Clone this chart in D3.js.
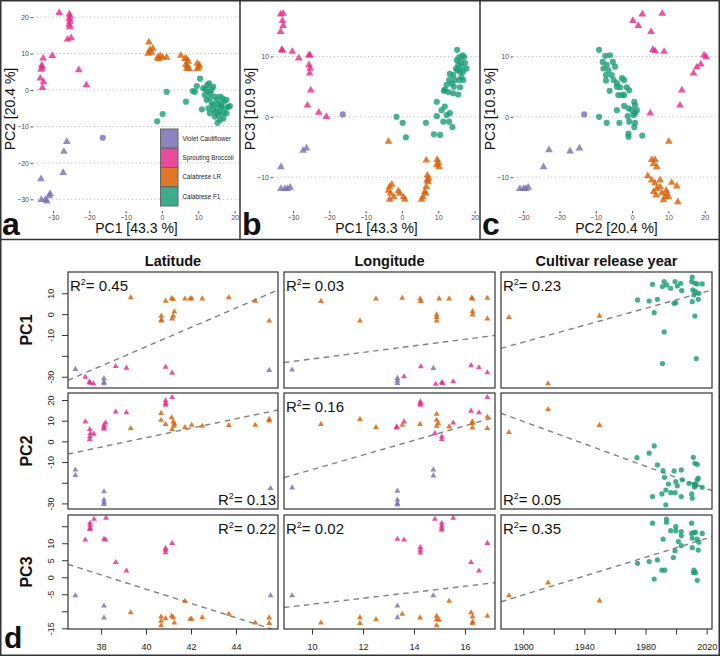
<!DOCTYPE html>
<html><head><meta charset="utf-8">
<script src="https://cdn.jsdelivr.net/npm/d3@7"></script>
<style>body{margin:0;background:#fff}svg{display:block;font-family:"Liberation Sans",Arial,sans-serif}</style>
</head><body><svg id="c" width="720" height="656"></svg>
<script>
// ---------- categories ----------
const groups = ["Violet Cauliflower","Sprouting Broccoli","Calabrese LR","Calabrese F1"];
const groupColors = ["#7570b3","#e7298a","#d95f02","#1b9e77"];
// codes: V violet, VF violet (hybrid, circle), S sprouting, L calabrese LR, F calabrese F1

// ---------- PCA panels (a: PC1/PC2, b: PC1/PC3, c: PC2/PC3) ----------
const pcaA = {
 S:[[-28.3,21.2],[-25.5,20.8],[-25.3,20.2],[-25.5,19.5],[-25.3,18.8],[-25.5,18.0],[-25.4,17.3],[-26,13.9],[-25,14.3],[-32.7,8.7],[-30.2,9.4],[-33.1,6.7],[-33.0,6.2],[-33.2,5.6],[-22.9,5.5],[-33.5,3.2],[-32.6,2.2],[-32.9,0.6],[-20.8,1.4]],
 V:[[-26.2,-14.2],[-27,-16.9],[-27.2,-22.7],[-33.3,-24.4],[-33.2,-30.1],[-32.1,-30.1],[-31.7,-30.5],[-31,-29.1],[-30.8,-28.5]],
 VF:[[-16.3,-13.1]],
 L:[[-3.6,13.1],[-3.3,11],[-2.9,10.3],[-3.8,10],[-2.5,11.4],[-0.5,9.4],[-0.9,8.5],[0.2,8.9],[-1.2,8.9],[1.3,8.9],[5.2,9.5],[6.3,8.6],[6.8,8.6],[7.2,7.8],[6.6,7.0],[7.0,6.5],[6.9,5.8],[9.7,7.3],[10.1,6.3],[9.8,5.8],[10.3,6.8],[7.5,5.8]],
 F:[[11.4,0.5],[12.5,1.4],[13.0,1.8],[12.8,-0.5],[13.4,-0.9],[14.1,0.9],[11.8,-1.4],[13.2,-2.3],[14.6,-1.8],[15.1,-2.7],[15.5,-3.7],[16.0,-1.8],[16.7,-2.3],[17.1,-3.2],[17.8,-2.7],[16.4,-4.6],[15.1,-5.0],[14.1,-5.5],[16.0,-5.9],[16.9,-6.4],[15.5,-6.8],[14.6,-7.3],[16.0,-8.2],[15.3,-9.0],[17.4,-5.0],[18.3,-4.6],[18.7,-4.4],[12.3,-2.7],[13.7,-3.7],[12.8,-5.0],[14.1,-4.1],[16.9,-7.8],[17.8,-6.4],[16.2,-4.1],[14.9,-6.2],[13.2,-6.4],[12.0,0.2],[13.7,0.2],[10.5,3.1],[1.3,-0.5],[0.2,-6.6],[-1.3,-8.6],[6.6,-3.2],[9.6,1.1],[9.1,-0.5],[11,-5.3],[8.5,-0.3]]
};
const pcaB = {
 S:[[-33.4,17.0],[-32.7,17.1],[-32.9,15.9],[-32.7,15.1],[-33.4,14.1],[-33.1,11.1],[-32.9,11.0],[-30.2,10.8],[-28.4,9.7],[-25.6,10.2],[-25.3,10.2],[-25.6,8.6],[-25.3,8.0],[-25.4,7.2],[-25.1,4.4],[-26,1.9],[-22.9,0.7],[-20.8,0.0]],
 V:[[-27.2,-5.6],[-26.3,-5.2],[-33.3,-8.3],[-33.3,-11.9],[-32.2,-11.9],[-31.5,-11.9],[-30.8,-11.7]],
 VF:[[-16.3,0.4]],
 L:[[-3.7,-4.1],[-3.4,-11.6],[-2.8,-11.2],[-3.7,-12.2],[-3.1,-12.7],[-3.4,-13.7],[-2.2,-13.3],[-1.0,-12.3],[-0.6,-12.7],[0.4,-13.3],[0.8,-13.7],[5.4,-13.7],[5.8,-13.3],[6.3,-12.4],[6.7,-11.6],[7.2,-10.8],[7.4,-10.2],[7.0,-9.7],[6.9,-10.5],[6.5,-12.7],[6.7,-7.2],[9.7,-7.1],[10.0,-7.6],[9.6,-8.0],[10.2,-8.3]],
 F:[[-1.5,0],[0.2,-1.0],[1.1,-3.4],[6.6,-1.0],[8.8,-2.9],[10.5,-3.0],[9.6,0.1],[10.9,1.1],[11.8,1.7],[12.3,0.3],[13.2,0.6],[13.0,-0.8],[11.4,-0.8],[13.9,-1.7],[9.6,2.5],[15.2,11.1],[16.7,10.2],[15.8,9.9],[15.1,9.4],[16.2,9.1],[17.4,8.9],[17.8,8.0],[16.4,8.3],[15.5,8.6],[14.9,8.0],[16.0,7.5],[16.9,7.5],[14.1,6.9],[13.2,7.1],[14.6,6.1],[15.8,6.1],[13.7,5.5],[12.3,5.3],[11.8,4.5],[12.8,4.1],[14.1,3.9],[15.5,3.7],[16.0,4.9],[16.9,6.1],[16.4,6.6],[17.1,9.9],[15.2,7.7],[14.3,5.0],[13.0,6.1],[11.6,4.3]]
};
const pcaC = {
 S:[[2.8,17.0],[8.3,17.1],[0.2,15.9],[1.7,15.1],[5.2,14.1],[5.7,11.1],[6.3,10.9],[8.8,10.8],[19.8,10.2],[20.4,9.9],[18.9,8.7],[17.8,8.2],[16.9,7.2],[13.7,4.4],[13.2,1.9],[5.0,0.6]],
 V:[[-22.9,-5.5],[-17.1,-5.7],[-14.5,-5.2],[-24.4,-8.3],[-30.9,-11.9],[-29.9,-11.9],[-29.3,-11.9],[-28.6,-11.7]],
 VF:[[-13.2,0.4]],
 L:[[10.1,-4.1],[5.4,-7.1],[6.3,-7.1],[5.9,-7.8],[6.8,-8.3],[4.3,-9.8],[5.4,-10.5],[6.3,-11.0],[5.9,-12.4],[6.8,-11.9],[7.7,-11.6],[8.2,-12.6],[9.1,-13.3],[8.6,-13.8],[9.4,-12.2],[9.6,-12.7],[10.0,-13.3],[10.9,-10.9],[12.3,-11.5],[12.6,-14.1],[6.6,-13.0],[7.7,-10.5]],
 F:[[-9.1,11.1],[-7.4,10.1],[-6.1,10.2],[-8.1,9.1],[-7.0,8.6],[-5.3,9.1],[-4.7,8.3],[-7.9,8.0],[-6.5,7.7],[-7.2,6.9],[-5.6,6.9],[-5.1,6.1],[-4.2,5.6],[-7.2,6.0],[-2.8,6.4],[-2.2,6.1],[-3.3,4.9],[-6.2,4.3],[-4.2,5.0],[-3.8,3.6],[-2.8,3.6],[-2.2,3.6],[-0.8,4.4],[-1.5,4.9],[0.6,2.5],[0.8,1.9],[-2.2,1.8],[-1.0,1.4],[-0.1,1.1],[-4.2,1.1],[1.3,1.1],[-1.2,0.1],[0.4,0.3],[-9.1,0],[-7.0,-1.0],[-3.5,-1.0],[-0.8,-0.8],[0.8,-1.0],[0.6,-1.7],[-1.0,-2.8],[-1.0,-3.3],[2.8,-3.1],[0.8,0.6]]
};
const pcaTicks = [-30,-20,-10,0,10,20];
const pc3TopTicks = [-10,0,10];

// ---------- panel d: PCs vs latitude / longitude / release year ----------
const latPC1 = {
 L:[[39.32,7.9],[40.87,6.3],[41.14,7.6],[41.2,7.1],[41.73,7.3],[41.96,7.3],[42.03,7.5],[42.5,7.4],[43.68,7.9],[44.86,6.3],[40.68,-0.9],[40.68,-3.2],[40.68,-2.8],[41.26,1.2],[41.21,-0.9],[41.16,-2.2],[45.48,-3.2]],
 S:[[37.3,-30.1],[38.65,-25.0],[39.13,-25.8],[40.87,-25.3],[41.16,-28.2],[37.48,-32.5],[37.66,-33.3],[37.52,-33.0]],
 V:[[36.86,-26.4],[45.48,-26.9],[38.13,-30.9],[38.13,-32.5],[38.13,-33.3]]
};
const latPC2 = {
 S:[[37.3,9.5],[37.5,5.8],[37.5,2.3],[37.5,1.0],[37.53,3.9],[37.68,3.6],[38.13,7.9],[38.2,9.0],[38.13,6.8],[38.13,6.0],[38.65,14.3],[39.13,13.9],[40.87,19.7],[40.87,18.4],[40.87,17.6],[41.16,21.3]],
 L:[[39.32,6.3],[40.67,13.6],[40.67,10.3],[40.87,8.3],[41.14,11.5],[41.21,9.5],[41.26,8.4],[41.24,7.4],[41.16,5.8],[41.73,6.8],[42.03,7.9],[42.5,7.4],[43.68,7.8],[44.86,7.9],[45.48,10.7],[45.48,10.0]],
 V:[[36.86,-13.8],[36.86,-16.4],[38.13,-24.3],[38.13,-28.3],[38.13,-29.6],[38.13,-30.4],[45.54,-22.7]]
};
const latPC3 = {
 S:[[37.69,17.1],[38.22,17.4],[37.51,15.9],[37.51,15.2],[37.51,14.4],[37.51,14.1],[37.3,11.0],[38.13,11.2],[38.2,11.0],[38.65,4.4],[39.13,1.9],[40.87,8.5],[40.87,8.0],[40.87,7.3],[41.16,10.0]],
 V:[[36.86,-5.4],[38.13,-8.4],[38.13,-11.9],[45.54,-5.4]],
 L:[[39.32,-10.4],[40.67,-11.6],[40.67,-12.9],[40.67,-14.2],[40.87,-12.1],[41.14,-11.4],[41.21,-11.8],[41.26,-13.4],[41.73,-7.0],[41.96,-12.3],[42.03,-12.3],[42.5,-11.8],[43.68,-10.8],[44.86,-13.4],[45.48,-11.9],[45.48,-13.5]]
};
const lonPC1 = {
 L:[[10.35,6.2],[11.88,-3.2],[12.51,7.3],[13.54,7.7],[14.24,7.3],[14.27,6.2],[14.89,-0.3],[14.89,-1.5],[14.89,-3.2],[14.99,7.4],[15.38,7.3],[16.26,7.7],[16.30,7.4],[16.30,1.3],[16.30,-0.3],[16.88,7.7],[16.88,-2.2]],
 V:[[9.22,-26.7],[13.35,-30.7],[13.35,-32.0],[13.35,-33.1],[14.76,-25.9]],
 S:[[13.61,-29.9],[14.27,-25.1],[14.85,-33.5],[15.09,-32.8],[15.12,-33.1],[15.54,-32.3],[16.24,-24.6],[16.55,-25.6],[16.88,-28.0]]
};
const lonPC2 = {
 S:[[14.25,19.2],[14.25,18.4],[14.25,17.6],[16.88,21.3],[16.24,14.7],[16.55,13.9],[13.32,7.1],[13.32,6.6],[13.61,9.5],[15.54,9.0],[14.82,3.9],[15.09,2.3],[15.09,1.0]],
 L:[[10.35,8.3],[11.88,10.7],[12.51,6.8],[13.54,7.9],[14.24,8.3],[14.89,13.2],[14.89,10.3],[14.95,8.7],[14.89,7.4],[15.38,7.1],[16.29,9.5],[16.29,8.7],[16.29,6.6],[16.88,11.9],[16.88,6.3]],
 V:[[9.22,-22.4],[13.35,-24.0],[13.35,-28.3],[13.35,-29.9],[13.35,-30.7],[14.76,-13.8],[14.76,-16.6]]
};
const lonPC3 = {
 S:[[14.82,17.1],[15.54,17.4],[15.09,15.9],[15.09,15.1],[15.09,14.4],[15.09,13.9],[13.35,11.2],[13.61,11.0],[14.25,8.8],[14.25,8.0],[14.25,7.2],[16.88,10.0],[16.24,4.4],[16.55,1.9]],
 V:[[9.22,-5.4],[14.76,-5.4],[13.35,-8.4],[13.35,-11.8]],
 L:[[10.35,-13.4],[11.88,-11.8],[11.88,-13.5],[12.51,-12.4],[13.54,-10.8],[14.24,-11.9],[14.89,-11.4],[14.89,-12.4],[14.99,-12.6],[14.89,-14.2],[15.38,-7.0],[16.24,-10.4],[16.3,-11.6],[16.3,-13.1],[16.3,-13.5],[16.88,-11.4]]
};
const yearPC1 = {
 L:[[1890.7,-1.5],[1949.9,-0.9],[1916.3,-33.3]],
 F:[[1984.6,14.3],[1992.2,15.6],[1993.9,14.0],[1991.1,13.2],[1996.5,12.4],[1999.3,15.6],[2000.8,13.5],[2003.0,14.8],[2003.7,11.3],[1998.7,5.2],[1999.8,5.5],[2010.6,17.7],[2010.2,15.6],[2012.3,14.8],[2013.8,14.5],[2017.1,14.5],[2011.0,11.6],[2012.7,10.8],[2014.9,10.0],[2010.6,6.0],[2014.5,7.1],[2011.7,9.2],[1974.8,6.8],[1982.4,6.3],[1987.8,7.1],[1985.7,0.7],[1992.2,-8.5],[1991.1,-23.7],[2012.3,-0.9],[2013.2,-21.3]]
};
const yearPC2 = {
 L:[[1890.7,4.4],[1916.3,15.5],[1949.9,7.8]],
 F:[[1974.4,-7.9],[1982.4,-5.7],[1985.7,-2.2],[1987.8,-11.4],[1991.5,-14.1],[1992.4,-17.4],[1998.7,-14.3],[2003.4,-13.8],[1999.8,-19.5],[1995.0,-20.6],[2000.8,-21.5],[1996.5,-24.8],[1993.3,-23.5],[1990.7,-25.4],[1984.6,-26.7],[1999.3,-24.8],[2003.4,-26.7],[2010.2,-25.4],[2010.6,-27.5],[2011.7,-20.6],[2012.7,-21.5],[2013.8,-18.6],[2014.5,-17.8],[2012.3,-10.6],[2013.8,-11.1],[2011.3,-7.7],[2017.1,-22.2],[1993.3,-30.7],[2004.1,-18.6],[2008.4,-20.3],[2012.0,-22.0],[2013.0,-20.8]]
};
const yearPC3 = {
 L:[[1890.7,-5.4],[1916.3,-1.6],[1949.9,-6.9]],
 F:[[1974.8,4.1],[1982.4,4.6],[1985.7,-0.5],[1987.8,5.1],[1990.7,2.1],[1992.6,2.1],[1991.5,11.2],[1984.6,15.9],[1993.7,17.1],[1993.7,16.2],[1996.5,13.7],[1999.8,14.9],[1999.8,13.7],[2003.4,13.4],[2003.4,12.2],[2001.5,10.5],[2003.4,9.3],[1999.3,7.8],[1998.2,5.8],[2010.2,15.9],[2010.2,12.9],[2011.7,13.2],[2012.7,13.2],[2010.6,11.5],[2013.8,11.2],[2014.9,10.3],[2010.6,8.7],[2014.5,8.0],[2017.1,12.9],[2011.7,2.1],[2012.7,1.4],[2013.8,-0.9],[2011.3,1.4]]
};
// regression fits: [x0, y0, x1, y1] in data units (rows PC1..PC3, columns lat/lon/year)
const fitLat  = [[36.53,-31.7,45.87,11.6],[36.53,-6.1,45.87,15.2],[36.53,3.8,45.87,-15.8]];
const fitLon  = [[8.9,-23.2,17.18,-10.2],[8.9,-17.5,17.18,11.7],[8.9,-8.9,17.18,-1.6]];
const fitYear = [[1885.5,-16.4,2023.5,11.6],[1885.5,13.6,2023.5,-23.8],[1885.5,-7.2,2023.5,11.9]];
const r2Values = [["0.45","0.03","0.23"],["0.13","0.16","0.05"],["0.22","0.02","0.35"]];

const colNames = ["Latitude","Longitude","Cultivar release year"];
const rowNames = ["PC1","PC2","PC3"];
const latTicks = [38,40,42,44];
const lonTicks = [10,12,14,16];
const yearTicks = [1900,1920,1940,1960,1980,2000,2020];
const yearTickLabels = [1900,1940,1980,2020];
const pc1Ticks = [-30,-20,-10,0,10], pc1Labels = [-30,-10,0,10];
const pc2Ticks = [-30,-20,-10,0,10,20], pc2Labels = [-30,-10,0,10,20];
const pc3Ticks = [-15,-10,-5,0,5,10,15], pc3Labels = [-15,-5,0,5,10];

// ---------- drawing ----------
const svg = d3.select("#c");
const codeIdx = {V:0,VF:0,S:1,L:2,F:3};
const isCircle = c => c==="F"||c==="VF";

function drawPts(g, data, x, y, triSize, r, op){
  ["V","VF","S","L","F"].forEach(code=>{
    const arr = data[code]||[];
    const col = groupColors[codeIdx[code]];
    const sel = g.selectAll(null).data(arr).enter();
    if(isCircle(code)){
      sel.append("circle").attr("cx",d=>x(d[0])).attr("cy",d=>y(d[1])).attr("r",r)
        .attr("fill",col).attr("fill-opacity",op);
    } else {
      sel.append("path").attr("d",d3.symbol().type(d3.symbolTriangle).size(triSize))
        .attr("transform",d=>`translate(${x(d[0])},${y(d[1])})`)
        .attr("fill",col).attr("fill-opacity",op);
    }
  });
}

function topPanel(ox, data, xDom, yDom, xT, yT, xTitle, yTitle, letter){
  const L=ox+33, R=ox+240, T=0, B=211;
  const x=d3.scaleLinear().domain(xDom).range([L,R]);
  const y=d3.scaleLinear().domain(yDom).range([B,T]);
  const g=svg.append("g");
  g.selectAll(null).data(yT).enter().append("line")
    .attr("x1",L).attr("x2",R).attr("y1",d=>y(d)).attr("y2",d=>y(d))
    .attr("stroke","#a8a8a8").attr("stroke-width",0.8).attr("stroke-dasharray","1.2,2.6");
  const ay=g.append("g").attr("transform",`translate(${L},0)`)
    .call(d3.axisLeft(y).tickValues(yT).tickSize(2.5).tickPadding(1.5));
  const ax=g.append("g").attr("transform",`translate(0,${B})`)
    .call(d3.axisBottom(x).tickValues(xT).tickSize(2.5).tickPadding(1.5));
  [ax,ay].forEach(a=>{
    a.select(".domain").remove();
    a.selectAll("line").attr("stroke","#555");
    a.selectAll("text").attr("font-size",7).attr("fill","#4d4d4d").attr("font-family","Liberation Sans, Arial, sans-serif");
  });
  drawPts(g.append("g"), data, x, y, 26, 3.1, 0.8);
  g.append("text").attr("x",(L+R)/2).attr("y",233).attr("text-anchor","middle")
    .attr("font-size",14).attr("fill","#111").text(xTitle);
  g.append("text").attr("transform",`translate(${ox+14.5},109) rotate(-90)`).attr("text-anchor","middle")
    .attr("font-size",14).attr("fill","#111").text(yTitle);
  g.append("text").attr("x",ox+2).attr("y",235).attr("font-size",32).attr("font-weight","bold")
    .attr("fill","#111").text(letter);
}

topPanel(0, pcaA, [-35.5,21.5], [-33.2,24.7], pcaTicks, pcaTicks, "PC1 [43.3 %]", "PC2 [20.4 %]", "a");
topPanel(240, pcaB, [-35.5,21.5], [-15.6,19.35], pcaTicks, pc3TopTicks, "PC1 [43.3 %]", "PC3 [10.9 %]", "b");
topPanel(480, pcaC, [-32.8,24.2], [-15.6,19.35], pcaTicks, pc3TopTicks, "PC2 [20.4 %]", "PC3 [10.9 %]", "c");

// legend in panel a
const lg = svg.append("g");
groups.forEach((name,i)=>{
  const y0 = 129 + i*19.25;
  lg.append("rect").attr("x",160.5).attr("y",y0).attr("width",17.5).attr("height",19.25)
    .attr("fill",groupColors[i]).attr("fill-opacity",0.85).attr("stroke","#666").attr("stroke-width",1);
  lg.append("text").attr("x",182.5).attr("y",y0+9.6).attr("dy","0.35em").attr("font-size",6.3)
    .attr("fill","#222").text(name);
});

// frames of the top section
svg.append("rect").attr("x",0.75).attr("y",0.75).attr("width",718.5).attr("height",654.5)
  .attr("fill","none").attr("stroke","#333").attr("stroke-width",1.5);
svg.append("line").attr("x1",0).attr("x2",720).attr("y1",239.5).attr("y2",239.5).attr("stroke","#333").attr("stroke-width",1.5);
[240,480].forEach(xv=>svg.append("line").attr("x1",xv).attr("x2",xv).attr("y1",0).attr("y2",239.5).attr("stroke","#333").attr("stroke-width",1.5));

// ---------- panel d ----------
const colX = [[68,278],[284,495],[501,712]];
const rowY = [[272,388],[393,509],[515,629]];
const xDomains = [[36.53,45.87],[8.9,17.18],[1885.5,2023.5]];
const yDomains = [[-35.4,20.2],[-32.7,23.4],[-15.2,18.3]];
const panelData = [[latPC1,lonPC1,yearPC1],[latPC2,lonPC2,yearPC2],[latPC3,lonPC3,yearPC3]];
const fits = [fitLat, fitLon, fitYear];
const r2Pos = [["tl","tl","tl"],["br","tl","bl"],["tr","tl","tl"]];
const yTicksRows = [[pc1Ticks,pc1Labels],[pc2Ticks,pc2Labels],[pc3Ticks,pc3Labels]];
const xTicksCols = [[latTicks,latTicks],[lonTicks,lonTicks],[yearTicks,yearTickLabels]];

const defs = svg.append("defs");
const dg = svg.append("g");
for(let r=0;r<3;r++){
  for(let c=0;c<3;c++){
    const [L,R]=colX[c], [T,B]=rowY[r];
    const x=d3.scaleLinear().domain(xDomains[c]).range([L,R]);
    const y=d3.scaleLinear().domain(yDomains[r]).range([B,T]);
    const id=`clip${r}${c}`;
    defs.append("clipPath").attr("id",id).append("rect").attr("x",L).attr("y",T).attr("width",R-L).attr("height",B-T);
    const pg=dg.append("g").attr("clip-path",`url(#${id})`);
    const f=fits[c][r];
    pg.append("line").attr("x1",x(f[0])).attr("y1",y(f[1])).attr("x2",x(f[2])).attr("y2",y(f[3]))
      .attr("stroke","#808080").attr("stroke-width",1.4).attr("stroke-dasharray","5.5,4.5");
    drawPts(pg, panelData[r][c], x, y, 15, 2.6, 0.82);
    dg.append("rect").attr("x",L).attr("y",T).attr("width",R-L).attr("height",B-T)
      .attr("fill","none").attr("stroke","#333").attr("stroke-width",1.2);
    // R^2 label
    const pos=r2Pos[r][c];
    const tx = pos[1]==="l" ? L+2 : R-2;
    const ty = pos[0]==="t" ? T+18.5 : B-4;
    const t=dg.append("text").attr("x",tx).attr("y",ty).attr("font-size",15).attr("fill","#111")
      .attr("text-anchor", pos[1]==="l"?"start":"end");
    t.append("tspan").text("R");
    t.append("tspan").attr("font-size",9).attr("dy",-6).text("2");
    t.append("tspan").attr("dy",6).text("= "+r2Values[r][c]);
    // y axis on first column
    if(c===0){
      const [tv,tl]=yTicksRows[r];
      const a=dg.append("g").attr("transform",`translate(${L},0)`)
        .call(d3.axisLeft(y).tickValues(tv).tickSize(6).tickFormat(d=>tl.includes(d)?String(d):""));
      a.select(".domain").remove();
      a.selectAll("line").attr("stroke","#333");
      a.selectAll("text").attr("transform","rotate(-90)").attr("x",0).attr("y",-14.5).attr("dy",0)
        .attr("text-anchor","middle").attr("font-size",9).attr("fill","#222")
        .attr("font-family","Liberation Sans, Arial, sans-serif");
      dg.append("text").attr("transform",`translate(32,${(T+B)/2}) rotate(-90)`).attr("text-anchor","middle")
        .attr("font-size",16).attr("font-weight","bold").attr("fill","#111").text(rowNames[r]);
    }
    if(r===2){
      const [tv,tl]=xTicksCols[c];
      const a=dg.append("g").attr("transform",`translate(0,${B})`)
        .call(d3.axisBottom(x).tickValues(tv).tickSize(5.5).tickPadding(9).tickFormat(d=>tl.includes(d)?String(d):""));
      a.select(".domain").remove();
      a.selectAll("line").attr("stroke","#333");
      a.selectAll("text").attr("font-size",9).attr("fill","#222").attr("font-family","Liberation Sans, Arial, sans-serif");
    }
    if(r===0){
      dg.append("text").attr("x",(L+R)/2).attr("y",266).attr("text-anchor","middle")
        .attr("font-size",14.5).attr("font-weight","bold").attr("fill","#111").text(colNames[c]);
    }
  }
}
svg.append("text").attr("x",4).attr("y",648).attr("font-size",30).attr("font-weight","bold").attr("fill","#111").text("d");
</script></body></html>
